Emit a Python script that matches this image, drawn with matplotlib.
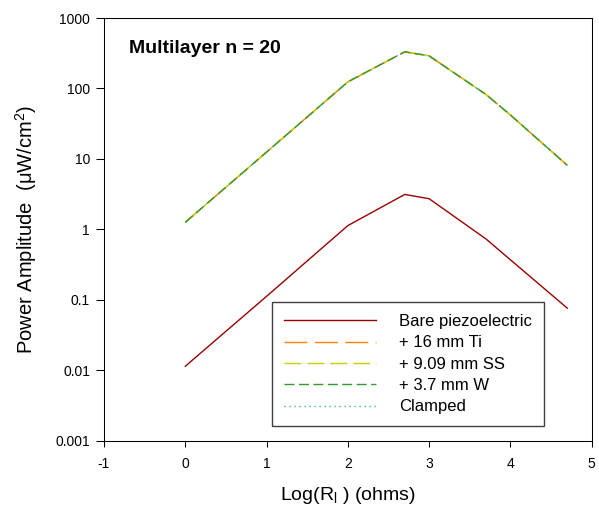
import numpy as np
import matplotlib.pyplot as plt

plt.rcParams['font.family'] = ['Liberation Sans', 'DejaVu Sans']
plt.rcParams['lines.scale_dashes'] = False
plt.rcParams['axes.unicode_minus'] = False

# log10 of load resistance
log_r = [0, 1, 2, 2.7, 3, 3.7, 4, 4.7]

# power amplitude (uW/cm^2)
bare = [0.0114, 0.112, 1.13, 3.13, 2.72, 0.73, 0.37, 0.076]
ti_16 = [1.26, 12.5, 124, 331, 290, 82, 42, 8.1]
ss_909 = [1.26, 12.5, 124, 331, 290, 82, 42, 8.1]
w_37 = [1.26, 12.5, 124, 331, 290, 82, 42, 8.1]
clamped = [1.26, 12.5, 124, 331, 290, 82, 42, 8.1]

labels = ['Bare piezoelectric', '+ 16 mm Ti', '+ 9.09 mm SS', '+ 3.7 mm W', 'Clamped']

fig = plt.figure(figsize=(5.99, 5.11), dpi=100)
W, H = 599, 511
x0, x1, y0, y1 = 104, 591.7, 18, 440.7
ax = fig.add_axes([x0 / W, (H - y1) / H, (x1 - x0) / W, (y1 - y0) / H])

lw = 1.0
ax.plot(log_r, bare, color='#990000', lw=lw, label=labels[0], zorder=3)
ax.plot(log_r, ti_16, color='#ff8000', lw=lw, dashes=(16.5, 5.4), label=labels[1], zorder=3)
ax.plot(log_r, ss_909, color='#cccc00', lw=lw, dashes=(12.2, 4.3), label=labels[2], zorder=4)
ax.plot(log_r, w_37, color='#339933', lw=lw, dashes=(7.2, 3.2), label=labels[3], zorder=5)
ax.plot(log_r, clamped, color='#00a0a0', lw=lw, dashes=(0.8, 2.8), label=labels[4], zorder=2)

ax.set_yscale('log')
ax.set_xlim(-1, 5)
ax.set_ylim(0.001, 1000)
ax.set_xticks(range(-1, 6))
ax.set_yticks([0.001, 0.01, 0.1, 1, 10, 100, 1000])
ax.set_yticklabels(['0.001', '0.01', '0.1', '1', '10', '100', '1000'])
ax.minorticks_off()
ax.tick_params(axis='both', labelsize=10, direction='out', width=0.75)
ax.tick_params(axis='y', length=6, pad=4)
ax.tick_params(axis='x', length=4, pad=8)
for s in ax.spines.values():
    s.set_linewidth(0.75)

ax.set_xlabel('Log(R$_\\mathregular{l}$ ) (ohms)', fontsize=14, labelpad=10)
ax.set_ylabel('Power Amplitude  ($\\mathregular{\\mu}$W/cm$^\\mathregular{2}$)', fontsize=14.5, labelpad=12)

ax.text(0.052, 0.927, 'Multilayer n = 20', transform=ax.transAxes, fontsize=14,
        fontweight='bold', va='center', ha='left')

leg = ax.legend(loc='upper left', bbox_to_anchor=(0.3445, 0.328), fontsize=12,
                handlelength=5.5, handletextpad=1.4, labelspacing=0.38,
                borderpad=0.72, borderaxespad=0, fancybox=False, framealpha=1)
leg.get_frame().set_edgecolor('#404040')
leg.get_frame().set_linewidth(1.0)

fig.savefig('out.png', dpi=100)
